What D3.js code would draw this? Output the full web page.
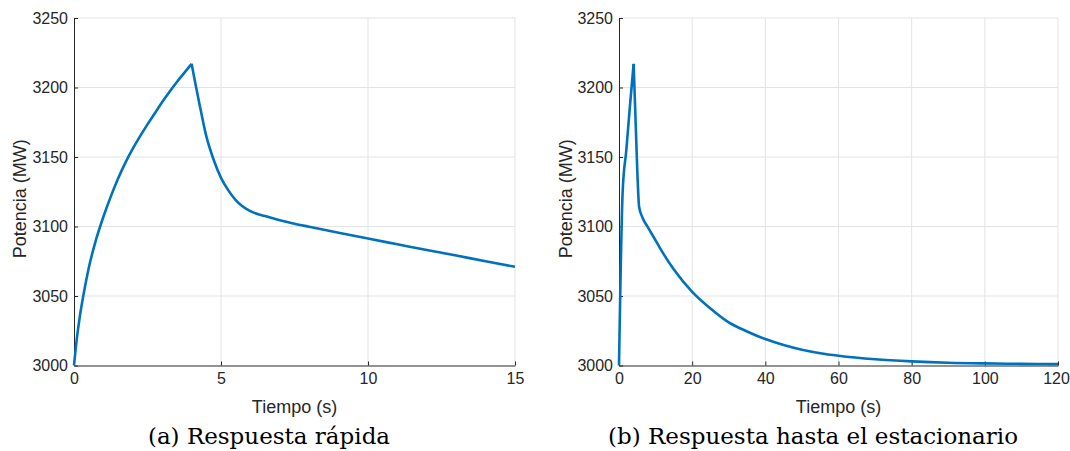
<!DOCTYPE html>
<html>
<head>
<meta charset="utf-8">
<script src="https://d3js.org/d3.v7.min.js"></script>
<style>
  body { margin: 0px; padding: 0px; background: #fff; }
</style>
</head>
<body>
<div id="svg_cont"></div>
<script>

// (a) fast response, 0 - 15 s
var t_fast = [0, 0.1, 0.2, 0.32, 0.5, 0.75, 1, 1.25, 1.5, 1.75, 2, 2.25, 2.5, 2.75, 3, 3.25, 3.5, 3.75, 4,
              4.1, 4.25, 4.5, 4.75, 5, 5.25, 5.5, 6, 6.5, 7, 7.5, 8, 9, 10, 11, 12, 13, 14, 15];
var p_fast = [3000, 3020, 3035.5, 3050.5, 3070, 3090.5, 3107, 3121.5, 3134.5, 3146, 3156, 3165, 3173.5, 3181.5,
              3189.5, 3197, 3204, 3210.5, 3217,
              3206, 3190, 3165, 3148, 3135, 3126, 3119, 3111, 3107.5, 3104.5, 3102, 3099.8, 3095.5, 3091.3,
              3087.2, 3083.1, 3079.1, 3075, 3071];

// (b) response up to steady state, 0 - 120 s
var t_slow = [0, 1, 2, 3, 4, 5, 5.5, 6.5, 8, 10, 12, 15, 20, 25, 30, 35, 40, 45, 50, 55, 60, 70, 80, 90, 100, 110, 120];
var p_slow = [3000, 3125, 3155, 3187, 3217, 3140, 3114, 3106, 3099, 3090, 3081, 3069, 3053, 3041, 3031, 3024.5, 3019,
              3014.7, 3011.3, 3008.8, 3007, 3004.5, 3003, 3002, 3001.5, 3001.2, 3001];

var y_ticks = [3000, 3050, 3100, 3150, 3200, 3250];
var x_ticks_fast = [0, 5, 10, 15];
var x_ticks_slow = [0, 20, 40, 60, 80, 100, 120];

var sans = '"Liberation Sans", Arial, sans-serif';

var w = 1070, h = 451;
var svg_main = d3.select("div#svg_cont")
                .append('svg')
                .attr('width', w)
                .attr('height', h);

function draw_panel(left, right, t, p, x_dom, x_ticks, ylab_x, caption, cap_x){
  var top = 18, bottom = 365.5;

  var x = d3.scaleLinear().domain(x_dom).range([left, right]);
  var y = d3.scaleLinear().domain([3000, 3250]).range([bottom, top]);

  var g = svg_main.append('g');

  // grid
  g.selectAll('.vgrid').data(x_ticks.slice(1)).enter().append('line')
    .attr('x1', d => x(d)).attr('x2', d => x(d))
    .attr('y1', top).attr('y2', bottom)
    .attr('stroke', '#e3e3e3').attr('stroke-width', 1);
  g.selectAll('.hgrid').data(y_ticks.slice(1)).enter().append('line')
    .attr('x1', left).attr('x2', right)
    .attr('y1', d => y(d)).attr('y2', d => y(d))
    .attr('stroke', '#e3e3e3').attr('stroke-width', 1);

  var x_axis = g.append('g')
    .attr('transform', 'translate(0,' + bottom + ')')
    .call(d3.axisBottom(x).tickValues(x_ticks).tickFormat(d3.format('d'))
          .tickSizeInner(-4).tickSizeOuter(0).tickPadding(7));
  var y_axis = g.append('g')
    .attr('transform', 'translate(' + left + ',0)')
    .call(d3.axisLeft(y).tickValues(y_ticks).tickFormat(d3.format('d'))
          .tickSizeInner(-4).tickSizeOuter(0).tickPadding(6));

  [x_axis, y_axis].forEach(function(a){
    a.attr('font-size', 16).attr('font-family', sans);
    a.select('.domain').attr('stroke', '#262626').attr('stroke-width', 1);
    a.selectAll('.tick line').attr('stroke', '#262626');
    a.selectAll('.tick text').attr('fill', '#262626');
  });

  // keep the last x label inside the page
  x_axis.selectAll('.tick text').filter(d => x(d) + 14 > w).attr('dx', w - 14 - right);

  // rising and falling parts drawn apart so that the peak stays sharp
  var k = p.indexOf(d3.max(p));
  var pts = t.map((d, i) => [d, p[i]]);
  var line = d3.line()
    .x(d => x(d[0]))
    .y(d => y(d[1]))
    .curve(d3.curveMonotoneX);

  [pts.slice(0, k + 1), pts.slice(k)].forEach(function(seg){
    g.append('path')
      .datum(seg)
      .attr('d', line)
      .attr('fill', 'none')
      .attr('stroke', '#0072BD')
      .attr('stroke-width', 2.6)
      .attr('stroke-linejoin', 'round');
  });

  g.append('text')
    .attr('x', (left + right) / 2)
    .attr('y', 413)
    .attr('text-anchor', 'middle')
    .attr('font-family', sans).attr('font-size', 18).attr('fill', '#262626')
    .text('Tiempo (s)');

  g.append('text')
    .attr('transform', 'translate(' + ylab_x + ',' + ((top + bottom) / 2 + 7) + ') rotate(-90)')
    .attr('text-anchor', 'middle')
    .attr('font-family', sans).attr('font-size', 18).attr('fill', '#262626')
    .text('Potencia (MW)');

  g.append('text')
    .attr('x', cap_x)
    .attr('y', 444)
    .attr('text-anchor', 'middle')
    .attr('font-family', '"DejaVu Serif", "Liberation Serif", serif')
    .attr('font-size', 23).attr('fill', '#000')
    .text(caption);
}

draw_panel(74, 515, t_fast, p_fast, [0, 15], x_ticks_fast, 26, '(a) Respuesta rápida', 269);
draw_panel(619, 1058, t_slow, p_slow, [0, 120], x_ticks_slow, 572, '(b) Respuesta hasta el estacionario', 813);

</script>
</body>
</html>
